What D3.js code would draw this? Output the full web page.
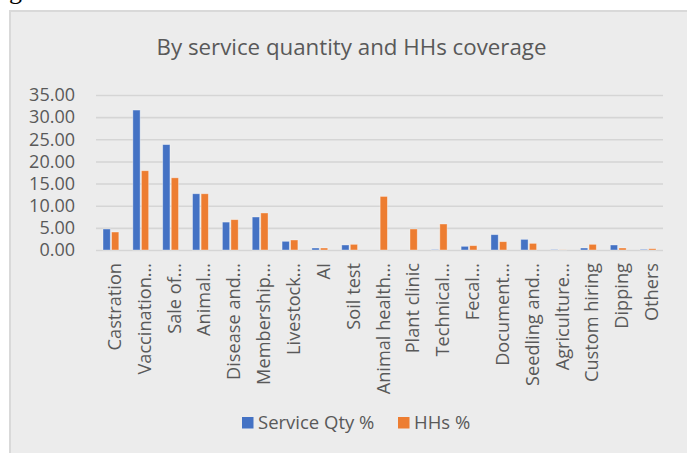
<!DOCTYPE html>
<html>
<head>
<meta charset="utf-8">
<script src="https://cdn.jsdelivr.net/npm/d3@7"></script>
<style>
  body { margin: 0; background: #fff; }
  svg text { font-family: "Open Sans", sans-serif; fill: #595959; }
</style>
</head>
<body>
<div id="wrapper"></div>
<script>
// data
const categories = [
  'Castration', 'Vaccination…', 'Sale of…', 'Animal…', 'Disease and…',
  'Membership…', 'Livestock…', 'AI', 'Soil test', 'Animal health…',
  'Plant clinic', 'Technical…', 'Fecal…', 'Document…', 'Seedling and…',
  'Agriculture…', 'Custom hiring', 'Dipping', 'Others'
]
const serviceQty = [4.74, 31.6, 23.8, 12.7, 6.3, 7.45, 1.96, 0.45, 1.13, 0, 0, 0.1, 0.83, 3.46, 2.4, 0.1, 0.45, 1.13, 0.15]
const hhsPct = [4.06, 17.9, 16.3, 12.7, 6.85, 8.36, 2.26, 0.45, 1.28, 12.1, 4.74, 5.87, 0.98, 1.88, 1.5, 0.03, 1.28, 0.45, 0.3]
const seriesNames = ['Service Qty %', 'HHs %']
const seriesColors = ['#4472C4', '#ED7D31']
const yTicks = [0, 5, 10, 15, 20, 25, 30, 35]

const series = [serviceQty, hhsPct]
const dataset = categories.map((c, i) => ({
  category: c,
  values: series.map((s, k) => ({ key: seriesNames[k], value: s[i] }))
}))

// dimensions
let dimensions = {
  width: 687,
  height: 453,
  margin: { top: 95, right: 24, bottom: 203, left: 96 }
}
dimensions.boundedWidth = dimensions.width - dimensions.margin.left - dimensions.margin.right
dimensions.boundedHeight = dimensions.height - dimensions.margin.top - dimensions.margin.bottom

const wrapper = d3.select('#wrapper')
  .append('svg')
  .attr('width', dimensions.width)
  .attr('height', dimensions.height)

// chart panel
wrapper.append('rect')
  .attr('x', 10).attr('y', 11)
  .attr('width', dimensions.width).attr('height', dimensions.height)
  .attr('fill', '#ececec')
  .attr('stroke', '#d9d9d9')
  .attr('stroke-width', 2)

// bit of the page text above the chart (cut off in the source too)
wrapper.append('text')
  .attr('x', 9).attr('y', -1)
  .style('font-family', '"Liberation Serif", serif')
  .style('font-size', '26px')
  .style('fill', '#000')
  .text('g')

wrapper.append('text')
  .attr('x', dimensions.width / 2 + 8)
  .attr('y', 55)
  .attr('text-anchor', 'middle')
  .style('font-size', '22.3px')
  .text('By service quantity and HHs coverage')

const bounds = wrapper.append('g')
  .attr('transform', `translate(${dimensions.margin.left},${dimensions.margin.top})`)

// scales
const xScale = d3.scaleBand()
  .domain(categories)
  .range([0, dimensions.boundedWidth])

const bw = xScale.bandwidth()
const xSub = d3.scaleBand()
  .domain(seriesNames)
  .range([bw * 0.235, bw * 0.765])
  .paddingInner(0.15)

const yScale = d3.scaleLinear()
  .domain([0, 35])
  .range([dimensions.boundedHeight, 0])

const color = d3.scaleOrdinal().domain(seriesNames).range(seriesColors)

// gridlines + y labels
const yAxis = bounds.append('g')
  .call(d3.axisLeft(yScale)
    .tickValues(yTicks)
    .tickFormat(d3.format('.2f'))
    .tickSize(-dimensions.boundedWidth)
    .tickPadding(21))
yAxis.select('.domain').remove()
yAxis.selectAll('.tick line')
  .attr('stroke', '#d5d5d5')
  .attr('stroke-width', 1.6)
yAxis.selectAll('.tick text')
  .style('font-size', '18px')
  .style('font-family', '"Open Sans", sans-serif')
  .attr('fill', '#595959')

// bars
const groups = bounds.append('g')
  .selectAll('g')
  .data(dataset)
  .join('g')
  .attr('transform', d => `translate(${xScale(d.category)},0)`)

groups.selectAll('rect')
  .data(d => d.values)
  .join('rect')
  .attr('x', d => xSub(d.key))
  .attr('y', d => yScale(d.value))
  .attr('width', xSub.bandwidth())
  .attr('height', d => yScale(0) - yScale(d.value))
  .attr('fill', d => color(d.key))
  .attr('stroke', 'rgba(255,255,255,0.45)')
  .attr('stroke-width', 0.8)

// category labels
const xAxis = bounds.append('g')
  .attr('transform', `translate(0,${dimensions.boundedHeight})`)
  .call(d3.axisBottom(xScale).tickSize(0).tickPadding(0))
xAxis.select('.domain').remove()
xAxis.selectAll('.tick text')
  .attr('transform', 'rotate(-90)')
  .attr('x', -13)
  .attr('y', 0)
  .attr('dy', '0.55em')
  .attr('text-anchor', 'end')
  .style('font-size', '18.2px')
  .style('font-family', '"Open Sans", sans-serif')
  .attr('fill', '#595959')

// legend
const legend = wrapper.append('g')
  .attr('transform', 'translate(242,417)')

const legendItems = legend.selectAll('g')
  .data(seriesNames)
  .join('g')
  .attr('transform', (d, i) => `translate(${i * 156},0)`)

legendItems.append('rect')
  .attr('width', 11.5)
  .attr('height', 11.5)
  .attr('fill', d => color(d))

legendItems.append('text')
  .attr('x', 16)
  .attr('y', 6)
  .attr('dy', '0.35em')
  .style('font-size', '18.5px')
  .text(d => d)
</script>
</body>
</html>
